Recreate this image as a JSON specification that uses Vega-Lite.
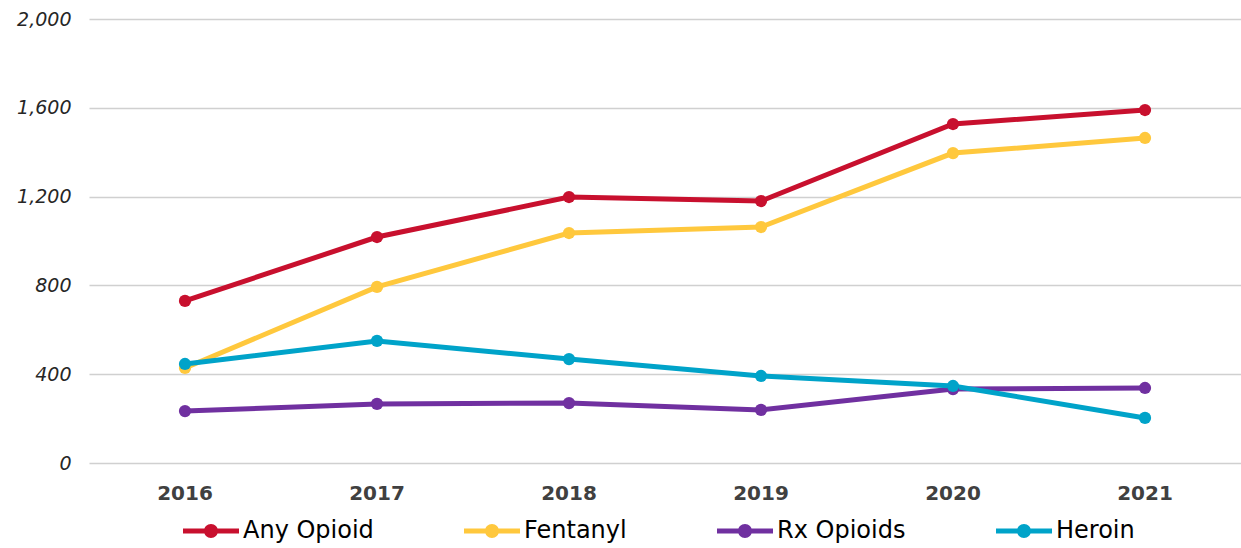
{
  "$schema": "https://vega.github.io/schema/vega-lite/v6.json",
  "width": 1152,
  "height": 444,
  "autosize": {"type": "none"},
  "padding": {"left": 89, "top": 19, "right": 0, "bottom": 85},
  "background": "white",
  "config": {"view": {"stroke": null}},
  "data": {
    "values": [
      {"year": "2016", "series": "Any Opioid", "value": 730},
      {"year": "2017", "series": "Any Opioid", "value": 1018},
      {"year": "2018", "series": "Any Opioid", "value": 1198},
      {"year": "2019", "series": "Any Opioid", "value": 1180},
      {"year": "2020", "series": "Any Opioid", "value": 1527},
      {"year": "2021", "series": "Any Opioid", "value": 1590},
      {"year": "2016", "series": "Fentanyl", "value": 428},
      {"year": "2017", "series": "Fentanyl", "value": 793},
      {"year": "2018", "series": "Fentanyl", "value": 1036},
      {"year": "2019", "series": "Fentanyl", "value": 1063},
      {"year": "2020", "series": "Fentanyl", "value": 1396},
      {"year": "2021", "series": "Fentanyl", "value": 1464},
      {"year": "2016", "series": "Rx Opioids", "value": 234},
      {"year": "2017", "series": "Rx Opioids", "value": 266},
      {"year": "2018", "series": "Rx Opioids", "value": 270},
      {"year": "2019", "series": "Rx Opioids", "value": 239},
      {"year": "2020", "series": "Rx Opioids", "value": 333},
      {"year": "2021", "series": "Rx Opioids", "value": 338},
      {"year": "2016", "series": "Heroin", "value": 446},
      {"year": "2017", "series": "Heroin", "value": 550},
      {"year": "2018", "series": "Heroin", "value": 468},
      {"year": "2019", "series": "Heroin", "value": 392},
      {"year": "2020", "series": "Heroin", "value": 347},
      {"year": "2021", "series": "Heroin", "value": 203}
    ]
  },
  "encoding": {
    "x": {
      "field": "year", "type": "ordinal",
      "scale": {"type": "band", "paddingInner": 0, "paddingOuter": 0},
      "axis": {
        "title": null, "domain": false, "ticks": false, "grid": false,
        "labelAngle": 0, "labelFont": "DejaVu Sans", "labelFontWeight": "bold",
        "labelFontSize": 20, "labelColor": "#404040", "labelPadding": 20
      }
    },
    "y": {
      "field": "value", "type": "quantitative",
      "scale": {"domain": [0, 2000], "nice": false},
      "axis": {
        "title": null, "domain": false, "ticks": false,
        "values": [0, 400, 800, 1200, 1600, 2000],
        "format": ",.0f", "labelFont": "DejaVu Sans", "labelFontStyle": "italic",
        "labelFontSize": 19, "labelColor": "#262626", "labelPadding": 18,
        "gridColor": "#d0d0d0", "gridWidth": 1.5
      }
    },
    "color": {
      "field": "series", "type": "nominal",
      "scale": {
        "domain": ["Any Opioid", "Fentanyl", "Rx Opioids", "Heroin"],
        "range": ["#C8102E", "#FFC83D", "#7030A0", "#00A3C9"]
      },
      "legend": {
        "title": null, "orient": "none", "direction": "horizontal",
        "legendX": 94, "legendY": 484,
        "symbolType": "M-1,-0.09 L1,-0.09 L1,0.09 L-1,0.09 Z M0.25,0 A0.25,0.25 0 1,1 -0.25,0 A0.25,0.25 0 1,1 0.25,0 Z",
        "symbolSize": 3136, "symbolStrokeWidth": 0,
        "labelFont": "DejaVu Sans", "labelFontSize": 24, "labelColor": "#000000",
        "labelOffset": 4, "columnPadding": 90
      }
    }
  },
  "layer": [
    {"mark": {"type": "line", "strokeWidth": 5}},
    {"mark": {"type": "point", "filled": true, "opacity": 1, "size": 150}}
  ]
}
